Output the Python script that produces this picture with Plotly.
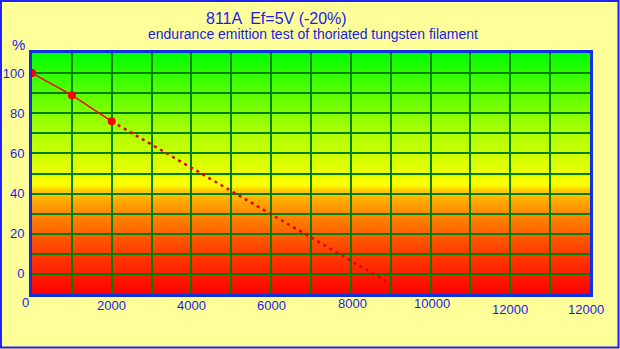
import plotly.graph_objects as go

# ---- data ----
hours = [0, 1000, 2000]
emission = [100, 89, 76]
extrap_hours = [2000, 9000]
extrap_emission = [76, -5]

xtick_vals = [0, 2000, 4000, 6000, 8000, 10000, 12000, 14000]
xtick_text = ["0", "2000", "4000", "6000", "8000", "10000", "12000", "12000"]
ytick_vals = [0, 20, 40, 60, 80, 100]
ytick_text = ["0", "20", "40", "60", "80", "100"]

title1 = "811A  Ef=5V (-20%)"
title2 = "endurance emittion test of thoriated tungsten filament"

# ---- layout geometry (pixels) ----
W, H = 620, 349
L, R, T, B = 32, 590, 53, 294
def px(x): return (x - L) / (R - L)
def py(y): return (B - y) / (B - T)

BLUE = "#1a1aee"
FONT = "Liberation Sans"

# gradient stops (value -> colour)
stops = [(-10, (255, 0, 0)), (14, (255, 74, 0)), (35, (255, 160, 0)),
         (42, (255, 208, 0)), (44, (255, 255, 0)), (74, (160, 255, 0)),
         (110, (0, 255, 0))]
def colour_at(v):
    for (v0, c0), (v1, c1) in zip(stops, stops[1:]):
        if v0 <= v <= v1:
            f = (v - v0) / (v1 - v0)
            return "rgb(%d,%d,%d)" % tuple(round(a + (b - a) * f) for a, b in zip(c0, c1))
    return "rgb(0,255,0)"

fig = go.Figure()

# gradient background as thin overlapping bands below gridlines
step = 0.5
v = -10
while v < 110:
    fig.add_shape(type="rect", xref="paper", yref="y", x0=0, x1=1, y0=v, y1=v + step + 0.4,
                  fillcolor=colour_at(v + step / 2), line=dict(width=0), layer="below")
    v += step

fig.add_trace(go.Scatter(x=extrap_hours, y=extrap_emission, mode="lines",
                         line=dict(color="#e00010", width=2.5, dash="3px,4px"),
                         hoverinfo="skip", showlegend=False))
fig.add_trace(go.Scatter(x=hours, y=emission, mode="lines+markers",
                         line=dict(color="#ff0000", width=1.5),
                         marker=dict(color="#ff0000", size=8),
                         showlegend=False))

xlab_shift = {0: (-7, -8), 8000: (2, -9), 10000: (1, -9), 12000: (0, -15), 14000: (-4, -15)}
for xv, t in zip(xtick_vals, xtick_text):
    dx, dy = xlab_shift.get(xv, (0, -11))
    fig.add_annotation(x=xv, y=0, xref="x", yref="paper", text=t, showarrow=False,
                       yanchor="middle", xanchor="center", xshift=dx, yshift=dy,
                       font=dict(family=FONT, size=13, color=BLUE))

for txt, x, y, s in [(title1, 276, 18, 16), (title2, 313, 34, 14), ("%", 18, 45, 15)]:
    fig.add_annotation(x=px(x), y=py(y), xref="paper", yref="paper", text=txt,
                       showarrow=False, xanchor="center", yanchor="middle",
                       font=dict(family=FONT, size=s, color=BLUE))

# outer border
fig.add_shape(type="rect", xref="paper", yref="paper",
              x0=px(1), x1=px(618.5), y0=py(347.5), y1=py(1),
              line=dict(color="#2020ff", width=2), layer="above")

fig.update_layout(
    width=W, height=H,
    margin=dict(l=L, r=W - R, t=T, b=H - B, autoexpand=False),
    paper_bgcolor="#ffff99", plot_bgcolor="#ffff99",
    showlegend=False,
    xaxis=dict(range=[0, 14000], dtick=1000, showticklabels=False, ticks="",
               showgrid=True, gridcolor="#008000", gridwidth=2, zeroline=False,
               showline=True, mirror=True, linecolor="#1030e0", linewidth=3,
               automargin=False),
    yaxis=dict(range=[-10, 110], showgrid=True, gridcolor="#008000",
               gridwidth=2, zeroline=False, tickmode="array",
               tickvals=ytick_vals, ticktext=ytick_text,
               ticks="", tickfont=dict(family=FONT, size=13, color=BLUE),
               ticklabelstandoff=2,
               showline=True, mirror=True, linecolor="#1030e0", linewidth=3,
               automargin=False,
               minor=dict(dtick=10, showgrid=True, gridcolor="#008000", gridwidth=2, ticks="")),
)

fig.write_html("out.html")
